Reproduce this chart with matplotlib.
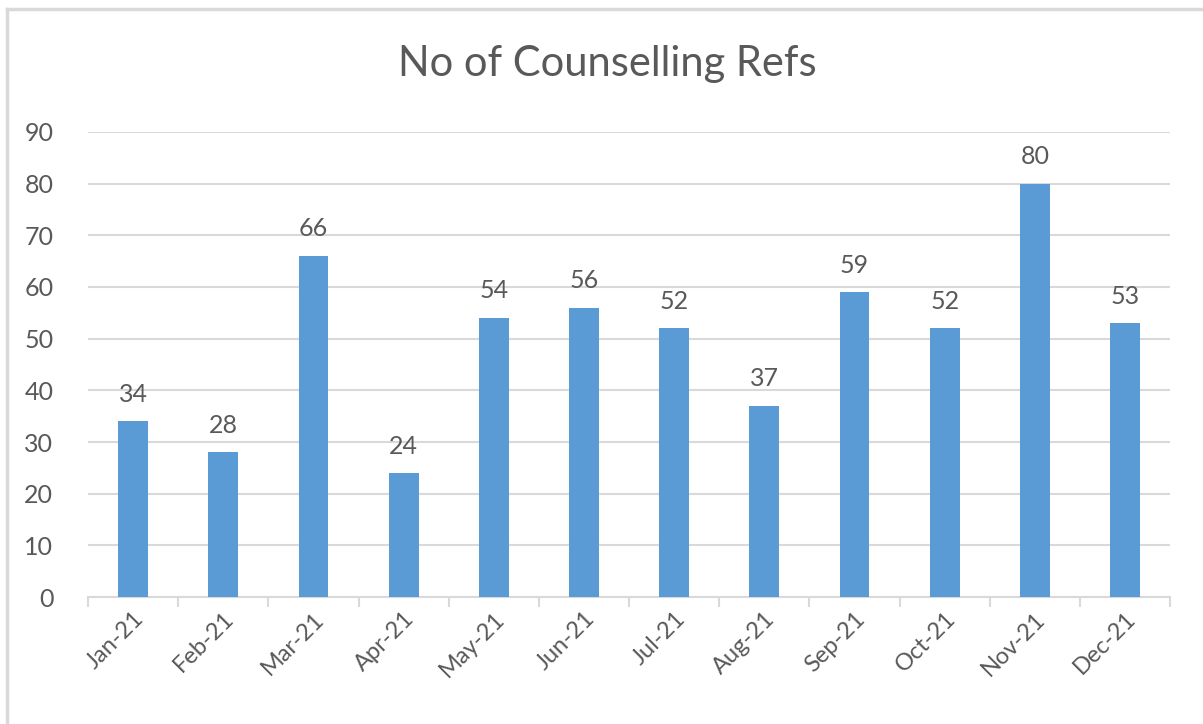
import matplotlib
matplotlib.use("Agg")
import matplotlib.pyplot as plt
from matplotlib.lines import Line2D

months = ["Jan-21", "Feb-21", "Mar-21", "Apr-21", "May-21", "Jun-21",
          "Jul-21", "Aug-21", "Sep-21", "Oct-21", "Nov-21", "Dec-21"]
refs = [34, 28, 66, 24, 54, 56, 52, 37, 59, 52, 80, 53]

plt.rcParams['font.family'] = ['Lato', 'DejaVu Sans']
text_col = '#595959'
grid_col = '#D9D9D9'
bar_col = '#5B9BD5'

fig = plt.figure(figsize=(12.03, 7.24), dpi=100)
ax = fig.add_axes([0.0732, 0.1754, 0.8994, 0.6423])

x = range(len(months))
ax.bar(x, refs, width=0.33, color=bar_col, zorder=3)
for xi, v in zip(x, refs):
    ax.text(xi, v + 3, str(v), ha='center', va='bottom', fontsize=18, color=text_col)

ax.set_ylim(0, 90)
ax.set_yticks(range(0, 91, 10))
ax.set_xlim(-0.5, len(months) - 0.5)
ax.set_xticks(list(x))
ax.set_xticklabels(months, rotation=45, ha='right', rotation_mode='anchor',
                   fontsize=17, color=text_col)
ax.tick_params(axis='x', length=0, pad=8)
ax.tick_params(axis='y', length=0, pad=25, labelsize=18, labelcolor=text_col)
ax.yaxis.grid(True, color=grid_col, linewidth=1.5, zorder=0)

# category boundary tick marks
ax.set_xticks([i - 0.5 for i in range(len(months) + 1)], minor=True)
ax.tick_params(axis='x', which='minor', length=7, color=grid_col, width=1.5)

for s in ['top', 'right', 'left']:
    ax.spines[s].set_visible(False)
ax.spines['bottom'].set_color(grid_col)
ax.spines['bottom'].set_linewidth(1.5)

fig.text(0.505, 0.912, "No of Counselling Refs", ha='center', va='center',
         fontsize=30, color=text_col)

# outer chart border (only left and top visible)
fig.add_artist(Line2D([0.0055, 0.0055], [0, 0.988], transform=fig.transFigure,
                      color=grid_col, linewidth=2.5))
fig.add_artist(Line2D([0.0055, 1], [0.988, 0.988], transform=fig.transFigure,
                      color=grid_col, linewidth=2.5))

fig.savefig("out.png", dpi=100, facecolor='white')
